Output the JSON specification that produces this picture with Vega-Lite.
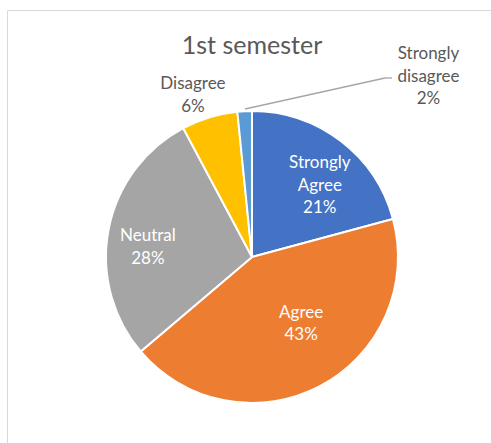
{
  "$schema": "https://vega.github.io/schema/vega-lite/v6.json",
  "autosize": {"type": "none"},
  "padding": {"left": 7, "top": 10, "right": 0, "bottom": 0},
  "width": 484,
  "height": 433,
  "background": "#ffffff",
  "title": {"text": "1st semester", "anchor": "middle", "frame": "group", "orient": "top", "baseline": "alphabetic", "offset": 0, "dy": 69, "dx": 3},
  "config": {
    "view": {"stroke": "#d9d9d9", "strokeWidth": 1},
    "title": {"font": "Lato", "fontSize": 25, "fontWeight": "normal", "color": "#595959"},
    "text": {"font": "Lato", "fontSize": 17, "lineBreak": "\n", "lineHeight": 22.5, "align": "center", "baseline": "middle"}
  },
  "datasets": {
    "slices": [
      {"cat": "Strongly Agree", "v": 20.8, "i": 1, "label": "Strongly\nAgree\n21%"},
      {"cat": "Agree", "v": 43.0, "i": 2, "label": "Agree\n43%"},
      {"cat": "Neutral", "v": 28.4, "i": 3, "label": "Neutral\n28%"},
      {"cat": "Disagree", "v": 6.2, "i": 4, "label": "Disagree\n6%"},
      {"cat": "Strongly disagree", "v": 1.6, "i": 5, "label": "Strongly\ndisagree\n2%"}
    ]
  },
  "data": {"name": "slices"},
  "layer": [
    {
      "mark": {"type": "arc", "outerRadius": 146, "stroke": "#ffffff", "strokeWidth": 2},
      "encoding": {
        "x": {"datum": 0, "type": "quantitative", "scale": {"domain": [-245, 239], "nice": false, "zero": false}, "axis": null},
        "y": {"datum": 0, "type": "quantitative", "scale": {"domain": [-186, 247], "nice": false, "zero": false}, "axis": null},
        "theta": {"field": "v", "type": "quantitative", "stack": true},
        "order": {"field": "i", "type": "quantitative"},
        "color": {"field": "cat", "type": "nominal", "legend": null,
          "scale": {"domain": ["Strongly Agree", "Agree", "Neutral", "Disagree", "Strongly disagree"],
                    "range": ["#4472C4", "#ED7D31", "#A5A5A5", "#FFC000", "#5B9BD5"]}}
      }
    },
    {
      "data": {"values": [{"leader": "Strongly disagree"}]},
      "mark": {"type": "rule", "color": "#a6a6a6", "strokeWidth": 1.3},
      "encoding": {
        "x": {"datum": -7, "type": "quantitative"},
        "y": {"datum": 148, "type": "quantitative"},
        "x2": {"datum": 133},
        "y2": {"datum": 179}
      }
    },
    {
      "data": {"values": [{"leader": "Strongly disagree"}]},
      "mark": {"type": "rule", "color": "#a6a6a6", "strokeWidth": 1.3},
      "encoding": {
        "x": {"datum": 133, "type": "quantitative"},
        "y": {"datum": 179, "type": "quantitative"},
        "x2": {"datum": 140},
        "y2": {"datum": 179}
      }
    },
    {
      "mark": {"type": "text", "radius": 100, "dx": 7, "dy": -14.5, "fill": "#ffffff"},
      "encoding": {
        "x": {"datum": 0, "type": "quantitative"},
        "y": {"datum": 0, "type": "quantitative"},
        "theta": {"field": "v", "type": "quantitative", "stack": true},
        "order": {"field": "i", "type": "quantitative"},
        "detail": {"field": "cat", "type": "nominal"},
        "text": {"condition": {"test": "datum.cat === 'Strongly Agree'", "field": "label", "type": "nominal"}, "value": ""}
      }
    },
    {
      "mark": {"type": "text", "radius": 82, "dx": 11, "dy": -17, "fill": "#ffffff"},
      "encoding": {
        "x": {"datum": 0, "type": "quantitative"},
        "y": {"datum": 0, "type": "quantitative"},
        "theta": {"field": "v", "type": "quantitative", "stack": true},
        "order": {"field": "i", "type": "quantitative"},
        "detail": {"field": "cat", "type": "nominal"},
        "text": {"condition": {"test": "datum.cat === 'Agree'", "field": "label", "type": "nominal"}, "value": ""}
      }
    },
    {
      "mark": {"type": "text", "radius": 105, "dx": -1, "dy": -1, "fill": "#ffffff"},
      "encoding": {
        "x": {"datum": 0, "type": "quantitative"},
        "y": {"datum": 0, "type": "quantitative"},
        "theta": {"field": "v", "type": "quantitative", "stack": true},
        "order": {"field": "i", "type": "quantitative"},
        "detail": {"field": "cat", "type": "nominal"},
        "text": {"condition": {"test": "datum.cat === 'Neutral'", "field": "label", "type": "nominal"}, "value": ""}
      }
    },
    {
      "mark": {"type": "text", "radius": 172, "dx": -9, "dy": -8, "fill": "#595959"},
      "encoding": {
        "x": {"datum": 0, "type": "quantitative"},
        "y": {"datum": 0, "type": "quantitative"},
        "theta": {"field": "v", "type": "quantitative", "stack": true},
        "order": {"field": "i", "type": "quantitative"},
        "detail": {"field": "cat", "type": "nominal"},
        "text": {"condition": {"test": "datum.cat === 'Disagree'", "field": "label", "type": "nominal"}, "value": ""}
      }
    },
    {
      "mark": {"type": "text", "radius": 150, "dx": 184, "dy": -53, "fill": "#595959"},
      "encoding": {
        "x": {"datum": 0, "type": "quantitative"},
        "y": {"datum": 0, "type": "quantitative"},
        "theta": {"field": "v", "type": "quantitative", "stack": true},
        "order": {"field": "i", "type": "quantitative"},
        "detail": {"field": "cat", "type": "nominal"},
        "text": {"condition": {"test": "datum.cat === 'Strongly disagree'", "field": "label", "type": "nominal"}, "value": ""}
      }
    }
  ]
}
